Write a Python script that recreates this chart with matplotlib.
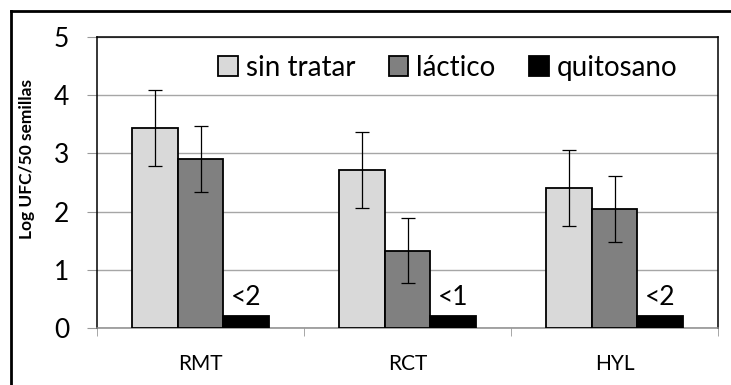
import numpy as np
import matplotlib
matplotlib.use("Agg")
import matplotlib.pyplot as plt
from matplotlib.lines import Line2D

plt.rcParams['font.family'] = ['Lato', 'DejaVu Sans']

# data
groups = ['RMT', 'RCT', 'HYL']
series = ['sin tratar', 'láctico', 'quitosano']
sin_tratar = [3.44, 2.71, 2.40]
sin_tratar_err = [0.65, 0.65, 0.65]
lactico = [2.90, 1.33, 2.04]
lactico_err = [0.57, 0.565, 0.57]
quitosano = [0.2, 0.2, 0.2]
limits = ['<2', '<1', '<2']

colors = ['#d9d9d9', '#808080', '#000000']

fig = plt.figure(figsize=(7.31, 3.85), dpi=100)
ax = fig.add_axes([97/731, 1 - 328/385, (718 - 97)/731, (328 - 37)/385])

x = np.arange(len(groups))
w = 0.222
ek = dict(ecolor='black', elinewidth=0.9, capsize=5, capthick=0.9)
ax.bar(x - w, sin_tratar, w, yerr=sin_tratar_err, color=colors[0],
       edgecolor='black', linewidth=1.3, label=series[0], error_kw=ek, zorder=3)
ax.bar(x, lactico, w, yerr=lactico_err, color=colors[1],
       edgecolor='black', linewidth=1.3, label=series[1], error_kw=ek, zorder=3)
ax.bar(x + w, quitosano, w, color=colors[2],
       edgecolor='black', linewidth=1.3, label=series[2], zorder=3)

for xi, q, t in zip(x, quitosano, limits):
    ax.text(xi + w, q + 0.33, t, ha='center', va='center', fontsize=19)

ax.set_xlim(-0.5, len(groups) - 0.5)
ax.set_ylim(0, 5)
ax.set_yticks(range(6))
ax.set_xticks(x)
ax.set_xticklabels(groups, fontsize=15)
ax.set_xticks(np.arange(len(groups) + 1) - 0.5, minor=True)
ax.tick_params(axis='x', which='major', length=0, pad=19)
ax.tick_params(axis='x', which='minor', length=6, color='#999999')
ax.tick_params(axis='y', length=7, color='#999999', labelsize=19, pad=13)
ax.grid(axis='y', color='#a6a6a6', linewidth=1, zorder=0)
ax.set_ylabel('Log UFC/50 semillas', fontsize=12.5, fontweight='bold')
ax.yaxis.set_label_coords(-0.1, 0.58)

for s in ['top', 'right', 'left']:
    ax.spines[s].set_color('black')
    ax.spines[s].set_linewidth(1.1)
ax.spines['bottom'].set_color('#8c8c8c')
ax.spines['bottom'].set_linewidth(1.1)

ax.legend(loc='center left', bbox_to_anchor=(0.195, 0.895), ncol=3, frameon=False,
          fontsize=20, handlelength=0.7, handleheight=0.7, handletextpad=0.3,
          columnspacing=1.2, borderaxespad=0, borderpad=0)

# outer chart frame
fig.add_artist(Line2D([11/731, 11/731], [0, 1 - 11/385], transform=fig.transFigure,
                      color='black', linewidth=2))
fig.add_artist(Line2D([11/731, 1], [1 - 11/385, 1 - 11/385], transform=fig.transFigure,
                      color='black', linewidth=2))

fig.savefig('out.png', dpi=100)
